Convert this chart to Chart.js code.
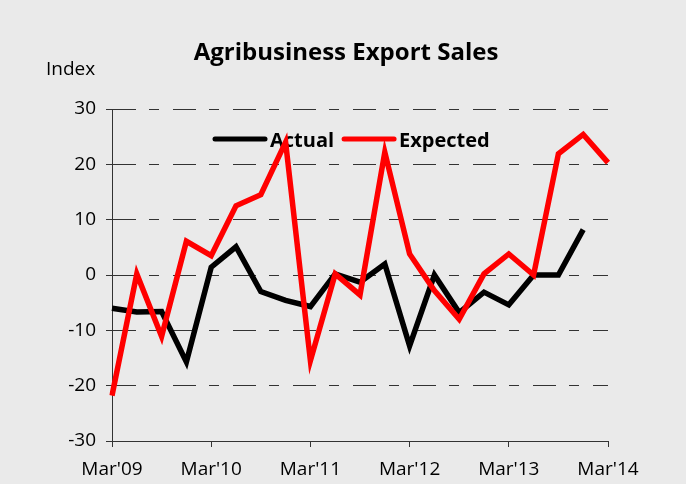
<!DOCTYPE html>
<html>
<head>
<meta charset="utf-8">
<script src="https://cdn.jsdelivr.net/npm/chart.js@4"></script>
<style>
  html, body { margin: 0; padding: 0; background: #eaeaea; }
</style>
</head>
<body>
<div style="width:686px;height:484px"><canvas id="myChart" width="686" height="484"></canvas></div>
<script>
const quarters = ["Mar'09", "Jun'09", "Sep'09", "Dec'09",
                  "Mar'10", "Jun'10", "Sep'10", "Dec'10",
                  "Mar'11", "Jun'11", "Sep'11", "Dec'11",
                  "Mar'12", "Jun'12", "Sep'12", "Dec'12",
                  "Mar'13", "Jun'13", "Sep'13", "Dec'13",
                  "Mar'14"];
const actual = [-6.0, -6.7, -6.6, -15.7, 1.4, 5.1, -3.0, -4.6, -5.7, 0.2, -1.3, 2.0,
                -12.8, 0, -6.8, -3.1, -5.4, 0, 0, 8.2, null];
const expected = [-21.8, 0.2, -11.1, 6.1, 3.5, 12.5, 14.5, 24.0, -15.5, 0.2, -3.6, 22.2,
                  3.8, -2.8, -8.0, 0.2, 3.8, 0, 21.9, 25.4, 20.3];
const yMin = -30, yMax = 30, yStep = 10;
const titleText = 'Agribusiness Export Sales';
const unitText = 'Index';

const gridColor = '#333333';
const gridDash = [23, 13, 10, 14];

// title, unit label and the legend sitting inside the plot
const overlay = {
    id: 'overlay',
    beforeDatasetsDraw(chart) {
        const c = chart.ctx;
        c.save();
        c.fillStyle = '#000';
        c.textBaseline = 'alphabetic';
        c.font = 'bold 24px "Open Sans"';
        c.textAlign = 'center';
        c.fillText(titleText, 346, 60);
        c.font = '19px "Open Sans"';
        c.textAlign = 'left';
        c.fillText(unitText, 46, 75);

        // legend
        let x = 215;
        const y = 139;
        c.font = 'bold 20px "Open Sans"';
        c.lineCap = 'round';
        c.lineWidth = 5;
        chart.data.datasets.forEach((ds) => {
            c.strokeStyle = ds.borderColor;
            c.beginPath();
            c.moveTo(x, y);
            c.lineTo(x + 50, y);
            c.stroke();
            c.fillStyle = '#000';
            c.fillText(ds.label, x + 55, y + 8);
            x += 55 + c.measureText(ds.label).width + 10;
        });
        c.restore();
    }
};

const ctx = document.getElementById('myChart');

const chart1 = new Chart(ctx, {
    type: 'line',
    data: {
        labels: quarters,
        datasets: [
            {
                label: 'Actual',
                data: actual,
                borderColor: '#000000',
                borderWidth: 5.5,
                pointRadius: 0,
                tension: 0,
                order: 1,
            },
            {
                label: 'Expected',
                data: expected,
                borderColor: '#ff0000',
                borderWidth: 5.5,
                pointRadius: 0,
                tension: 0,
                order: 0,
            },
        ],
    },
    options: {
        responsive: false,
        animation: false,
        layout: {
            padding: { top: 109, right: 78, left: 0, bottom: 0 }
        },
        plugins: {
            legend: { display: false },
            title: { display: false },
            tooltip: { enabled: false }
        },
        scales: {
            x: {
                offset: false,
                afterFit: (scale) => { scale.height = 43; },
                grid: {
                    drawOnChartArea: false,
                    drawTicks: true,
                    tickLength: 6,
                    tickColor: (c) => (c.index % 4 === 0 ? gridColor : 'rgba(0,0,0,0)'),
                },
                border: { color: gridColor, width: 1 },
                ticks: {
                    autoSkip: false,
                    maxRotation: 0,
                    padding: 11,
                    color: '#000',
                    font: { family: 'Open Sans', size: 19 },
                    callback: function (value, index) {
                        return index % 4 === 0 ? this.getLabelForValue(value) : '';
                    }
                }
            },
            y: {
                min: yMin,
                max: yMax,
                afterFit: (scale) => { scale.width = 112; },
                grid: {
                    color: gridColor,
                    lineWidth: 1,
                    drawTicks: true,
                    tickLength: 6,
                    tickColor: gridColor,
                },
                border: { color: gridColor, width: 1, dash: gridDash },
                ticks: {
                    stepSize: yStep,
                    padding: 10,
                    color: '#000',
                    font: { family: 'Open Sans', size: 19 },
                }
            }
        }
    },
    plugins: [overlay]
});
</script>
</body>
</html>
